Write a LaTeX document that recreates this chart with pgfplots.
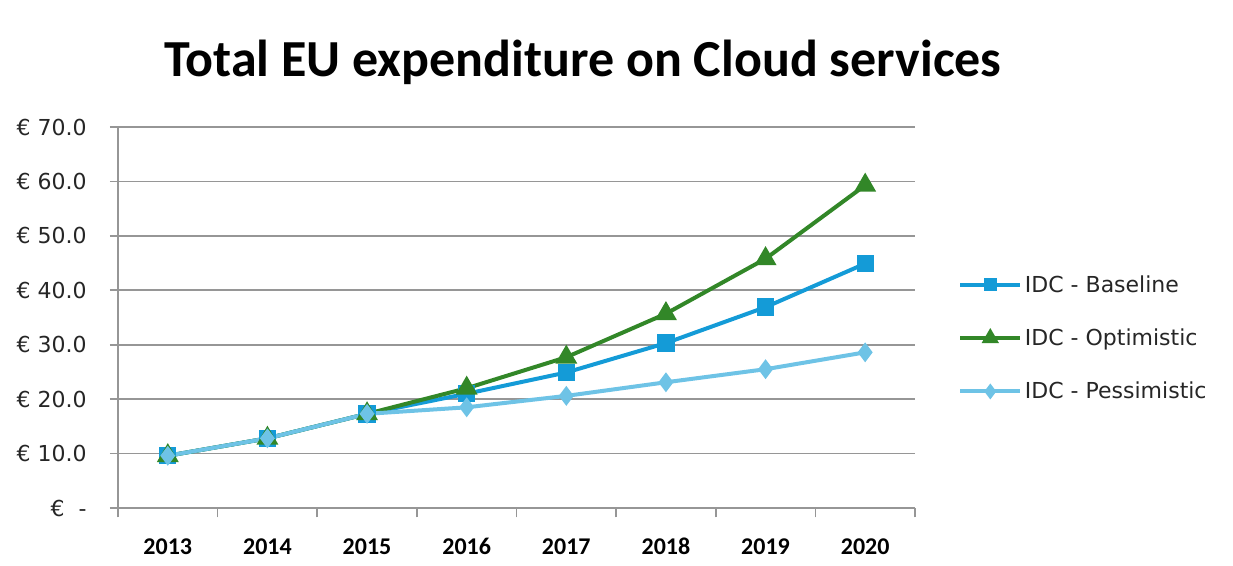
\documentclass[border=0pt]{standalone}
\usepackage{pgfplots}
\pgfplotsset{compat=1.18}
\usepackage{fontspec}
\setmainfont{Carlito}
\newfontfamily\dejavu{DejaVu Sans}
\definecolor{cbase}{RGB}{20,155,215}
\definecolor{copt}{RGB}{50,135,40}
\definecolor{cpes}{RGB}{110,195,230}
\definecolor{cgrid}{RGB}{150,150,150}
\begin{document}
\begin{tikzpicture}
\useasboundingbox (-88.5pt,-42.75pt) rectangle (836.25pt,381pt);
\begin{axis}[
  scale only axis,
  width=597.75pt, height=285.75pt,
  xmin=-0.5, xmax=7.5, ymin=0, ymax=70,
  xtick={0,...,7},
  xticklabels={2013,2014,2015,2016,2017,2018,2019,2020},
  minor xtick={-0.5,0.5,...,7.5},
  major x tick style={draw=none},
  minor x tick style={draw=cgrid, line width=1.2pt},
  minor tick length=7pt,
  ytick={0,10,...,70},
  yticklabels={{€\ \ -},{€ 10.0},{€ 20.0},{€ 30.0},{€ 40.0},{€ 50.0},{€ 60.0},{€ 70.0}},
  major y tick style={draw=cgrid, line width=1.2pt},
  major tick length=6pt,
  tick align=outside,
  tick pos=left,
  ymajorgrids,
  grid style={cgrid, line width=1.2pt},
  axis x line*=bottom,
  axis y line*=left,
  axis line style={cgrid, line width=1.2pt},
  x tick label style={font=\fontsize{18}{18}\selectfont\bfseries, anchor=base, yshift=-29pt},
  y tick label style={font=\dejavu\fontsize{16.5}{16.5}\selectfont, text=black!85, xshift=-14pt, anchor=east},
  legend style={at={(1.054,0.446)}, anchor=west, draw=none, fill=none,
    font=\dejavu\fontsize{16.5}{16.5}\selectfont, row sep=22pt, inner sep=0pt,
    text=black!85,
    /tikz/every even column/.append style={column sep=2pt}},
  legend cell align=left,
  legend image code/.code={
    \draw[#1,mark=none] (0pt,0pt) -- (45pt,0pt);
    \draw[#1,mark options={scale=0.7}] plot coordinates {(22.5pt,0pt)};
  },
  clip=false,
]
\addplot[cbase, line width=3pt, mark=square*, mark size=5pt, mark options={solid}]
  coordinates {(0,9.6)(1,12.8)(2,17.3)(3,21.0)(4,24.9)(5,30.3)(6,36.9)(7,44.9)};
\addlegendentry{IDC - Baseline}
\addplot[copt, line width=3pt, mark=triangle*, mark size=6.5pt, mark options={solid}]
  coordinates {(0,9.6)(1,12.8)(2,17.3)(3,22.0)(4,27.7)(5,35.7)(6,45.8)(7,59.3)};
\addlegendentry{IDC - Optimistic}
\addplot[cpes, line width=3pt, mark=diamond*, mark size=5pt, mark options={solid}]
  coordinates {(0,9.6)(1,12.8)(2,17.3)(3,18.5)(4,20.6)(5,23.1)(6,25.5)(7,28.6)};
\addlegendentry{IDC - Pessimistic}
\node[font=\fontsize{39}{39}\selectfont\bfseries, anchor=center] at (rel axis cs:0.5835,1.17) {Total EU expenditure on Cloud services};
\end{axis}
\end{tikzpicture}
\end{document}
